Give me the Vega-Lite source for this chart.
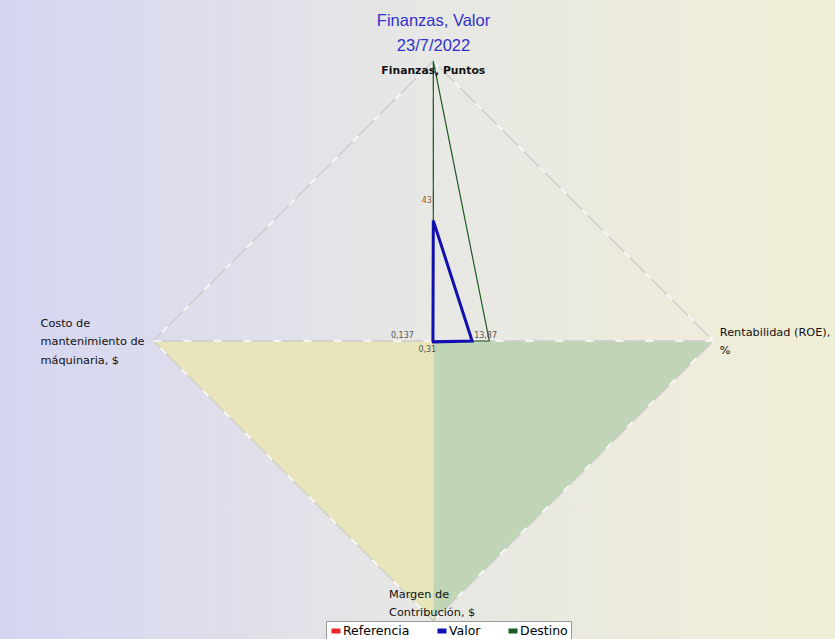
{
  "$schema": "https://vega.github.io/schema/vega-lite/v6.json",
  "width": 835,
  "height": 639,
  "autosize": {"type": "none"},
  "padding": 0,
  "background": "#e6e6e8",
  "config": {
    "view": {"stroke": null},
    "legend": {
      "orient": "none",
      "legendX": 326,
      "legendY": 621,
      "direction": "horizontal",
      "symbolType": "stroke",
      "symbolSize": 81,
      "symbolStrokeWidth": 5,
      "labelFont": "DejaVu Sans",
      "labelFontSize": 12.5,
      "labelColor": "#000000",
      "labelOffset": 0,
      "columnPadding": 17,
      "padding": 3,
      "fillColor": "#ffffff",
      "strokeColor": "#9a9a9a"
    }
  },
  "title": {
    "text": ["Finanzas, Valor", "23/7/2022"],
    "anchor": "middle",
    "frame": "group",
    "dx": 16,
    "font": "Liberation Sans",
    "fontSize": 16.5,
    "fontWeight": "normal",
    "color": "#3232cc",
    "lineHeight": 25,
    "baseline": "top",
    "offset": -54
  },
  "datasets": {
    "bg": [{}],
    "series": [
      {"series": "Valor", "axis": 0, "value": 43, "label": "43"},
      {"series": "Valor", "axis": 1, "value": 13.87, "label": "13,87"},
      {"series": "Valor", "axis": 2, "value": 0.31, "label": "0,31"},
      {"series": "Valor", "axis": 3, "value": 0.137, "label": "0,137"},
      {"series": "Destino", "axis": 0, "value": 100, "label": ""},
      {"series": "Destino", "axis": 1, "value": 20, "label": ""},
      {"series": "Destino", "axis": 2, "value": 0, "label": ""},
      {"series": "Destino", "axis": 3, "value": 0, "label": ""}
    ],
    "axes": [
      {"axis": 0, "value": 100, "name": ["Finanzas, Puntos"]},
      {"axis": 1, "value": 100, "name": ["Rentabilidad (ROE),", "\u00a0%"]},
      {"axis": 2, "value": 100, "name": ["Margen de", "Contribución, $"]},
      {"axis": 3, "value": 100, "name": ["Costo de", "mantenimiento de", "máquinaria, $"]}
    ],
    "sectors": [
      {"sector": "right", "axis": 1, "value": 100},
      {"sector": "right", "axis": 2, "value": 100},
      {"sector": "left", "axis": 2, "value": 100},
      {"sector": "left", "axis": 3, "value": 100}
    ]
  },
  "layer": [
    {
      "data": {"name": "bg"},
      "mark": {
        "type": "rect",
        "color": {
          "gradient": "linear",
          "stops": [
            {"offset": 0, "color": "#d5d5f3"},
            {"offset": 0.5, "color": "#e7e7e5"},
            {"offset": 1, "color": "#f1eed6"}
          ]
        }
      },
      "encoding": {}
    },
    {
      "encoding": {
        "x": {"field": "x", "type": "quantitative", "scale": {"domain": [-1.5475, 1.4346], "nice": false, "zero": false}, "axis": null},
        "y": {"field": "y", "type": "quantitative", "scale": {"domain": [-1.0643, 1.2179], "nice": false, "zero": false}, "axis": null, "stack": null}
      },
      "layer": [
        {
          "data": {"name": "sectors"},
          "transform": [
            {"filter": "datum.sector == 'right'"},
            {"calculate": "datum.value/100*sin(datum.axis*PI/2)", "as": "x"},
            {"calculate": "datum.value/100*cos(datum.axis*PI/2)", "as": "y"}
          ],
          "mark": {"type": "area", "color": "#bfd5b5", "opacity": 1},
          "encoding": {"y2": {"datum": 0}}
        },
        {
          "data": {"name": "sectors"},
          "transform": [
            {"filter": "datum.sector == 'left'"},
            {"calculate": "datum.value/100*sin(datum.axis*PI/2)", "as": "x"},
            {"calculate": "datum.value/100*cos(datum.axis*PI/2)", "as": "y"}
          ],
          "mark": {"type": "area", "color": "#e8e5bb", "opacity": 1},
          "encoding": {"y2": {"datum": 0}}
        },
        {
          "data": {"name": "axes"},
          "transform": [
            {"calculate": "datum.value/100*sin(datum.axis*PI/2)", "as": "x"},
            {"calculate": "datum.value/100*cos(datum.axis*PI/2)", "as": "y"}
          ],
          "mark": {"type": "line", "interpolate": "linear-closed", "color": "#cdcdcd", "strokeWidth": 1.5},
          "encoding": {"order": {"field": "axis"}}
        },
        {
          "data": {"name": "axes"},
          "transform": [
            {"calculate": "datum.value/100*sin(datum.axis*PI/2)", "as": "x"},
            {"calculate": "datum.value/100*cos(datum.axis*PI/2)", "as": "y"}
          ],
          "mark": {"type": "line", "interpolate": "linear-closed", "color": "#ffffff", "strokeWidth": 1.5, "strokeDash": [8, 22]},
          "encoding": {"order": {"field": "axis"}}
        },
        {
          "data": {"name": "axes"},
          "transform": [
            {"filter": "datum.axis != 2"},
            {"calculate": "datum.value/100*sin(datum.axis*PI/2)", "as": "x"},
            {"calculate": "datum.value/100*cos(datum.axis*PI/2)", "as": "y"}
          ],
          "mark": {"type": "rule", "color": "#cdcdcd", "strokeWidth": 1.5},
          "encoding": {"x2": {"datum": 0}, "y2": {"datum": 0}}
        },
        {
          "data": {"name": "axes"},
          "transform": [
            {"filter": "datum.axis != 2"},
            {"calculate": "datum.value/100*sin(datum.axis*PI/2)", "as": "x"},
            {"calculate": "datum.value/100*cos(datum.axis*PI/2)", "as": "y"}
          ],
          "mark": {"type": "rule", "color": "#ffffff", "strokeWidth": 1.5, "strokeDash": [8, 22]},
          "encoding": {"x2": {"datum": 0}, "y2": {"datum": 0}}
        },
        {
          "data": {"name": "series"},
          "transform": [
            {"filter": "datum.series == 'Destino'"},
            {"calculate": "datum.value/100*sin(datum.axis*PI/2)", "as": "x"},
            {"calculate": "datum.value/100*cos(datum.axis*PI/2)", "as": "y"}
          ],
          "mark": {"type": "line", "interpolate": "linear-closed", "strokeWidth": 1.2},
          "encoding": {
            "order": {"field": "axis"},
            "color": {"field": "series", "type": "nominal", "scale": {"domain": ["Referencia", "Valor", "Destino"], "range": ["#e8262c", "#1010b0", "#1f5a22"]}, "legend": {"title": null}}
          }
        },
        {
          "data": {"name": "series"},
          "transform": [
            {"filter": "datum.series == 'Valor'"},
            {"calculate": "datum.value/100*sin(datum.axis*PI/2)", "as": "x"},
            {"calculate": "datum.value/100*cos(datum.axis*PI/2)", "as": "y"}
          ],
          "mark": {"type": "line", "interpolate": "linear-closed", "strokeWidth": 3},
          "encoding": {
            "order": {"field": "axis"},
            "color": {"field": "series", "type": "nominal", "scale": {"domain": ["Referencia", "Valor", "Destino"], "range": ["#e8262c", "#1010b0", "#1f5a22"]}, "legend": {"title": null}}
          }
        },
        {
          "data": {"name": "series"},
          "transform": [
            {"filter": "datum.series == 'Valor' && datum.axis == 0"},
            {"calculate": "datum.value/100*sin(datum.axis*PI/2)", "as": "x"},
            {"calculate": "datum.value/100*cos(datum.axis*PI/2)", "as": "y"}
          ],
          "mark": {"type": "text", "font": "DejaVu Sans", "fontSize": 8, "color": "#9c5b2e", "align": "center", "baseline": "middle", "dx": -6.5, "dy": -20},
          "encoding": {"text": {"field": "label"}}
        },
        {
          "data": {"name": "series"},
          "transform": [
            {"filter": "datum.series == 'Valor' && datum.axis == 1"},
            {"calculate": "datum.value/100*sin(datum.axis*PI/2)", "as": "x"},
            {"calculate": "datum.value/100*cos(datum.axis*PI/2)", "as": "y"}
          ],
          "mark": {"type": "text", "font": "DejaVu Sans", "fontSize": 8, "color": "#555555", "align": "left", "baseline": "middle", "dx": 2, "dy": -5},
          "encoding": {"text": {"field": "label"}}
        },
        {
          "data": {"name": "series"},
          "transform": [
            {"filter": "datum.series == 'Valor' && datum.axis == 2"},
            {"calculate": "datum.value/100*sin(datum.axis*PI/2)", "as": "x"},
            {"calculate": "datum.value/100*cos(datum.axis*PI/2)", "as": "y"}
          ],
          "mark": {"type": "text", "font": "DejaVu Sans", "fontSize": 8, "color": "#555555", "align": "center", "baseline": "middle", "dx": -6, "dy": 8},
          "encoding": {"text": {"field": "label"}}
        },
        {
          "data": {"name": "series"},
          "transform": [
            {"filter": "datum.series == 'Valor' && datum.axis == 3"},
            {"calculate": "datum.value/100*sin(datum.axis*PI/2)", "as": "x"},
            {"calculate": "datum.value/100*cos(datum.axis*PI/2)", "as": "y"}
          ],
          "mark": {"type": "text", "font": "DejaVu Sans", "fontSize": 8, "color": "#555555", "align": "center", "baseline": "middle", "dx": -30.5, "dy": -5},
          "encoding": {"text": {"field": "label"}}
        },
        {
          "data": {"name": "axes"},
          "transform": [
            {"filter": "datum.axis == 0"},
            {"calculate": "datum.value/100*sin(datum.axis*PI/2)", "as": "x"},
            {"calculate": "datum.value/100*cos(datum.axis*PI/2)", "as": "y"}
          ],
          "mark": {"type": "text", "font": "DejaVu Sans", "fontSize": 10.8, "fontWeight": "bold", "color": "#111111", "align": "center", "baseline": "middle", "dy": 10},
          "encoding": {"text": {"field": "name"}}
        },
        {
          "data": {"name": "axes"},
          "transform": [
            {"filter": "datum.axis == 1"},
            {"calculate": "datum.value/100*sin(datum.axis*PI/2)", "as": "x"},
            {"calculate": "datum.value/100*cos(datum.axis*PI/2)", "as": "y"}
          ],
          "mark": {"type": "text", "font": "DejaVu Sans", "fontSize": 11.3, "color": "#111111", "align": "left", "baseline": "middle", "dx": 6.5, "dy": -8, "lineHeight": 18},
          "encoding": {"text": {"field": "name"}}
        },
        {
          "data": {"name": "axes"},
          "transform": [
            {"filter": "datum.axis == 2"},
            {"calculate": "datum.value/100*sin(datum.axis*PI/2)", "as": "x"},
            {"calculate": "datum.value/100*cos(datum.axis*PI/2)", "as": "y"}
          ],
          "mark": {"type": "text", "font": "DejaVu Sans", "fontSize": 11.3, "color": "#111111", "align": "left", "baseline": "middle", "dx": -44.3, "dy": -26, "lineHeight": 17.7},
          "encoding": {"text": {"field": "name"}}
        },
        {
          "data": {"name": "axes"},
          "transform": [
            {"filter": "datum.axis == 3"},
            {"calculate": "datum.value/100*sin(datum.axis*PI/2)", "as": "x"},
            {"calculate": "datum.value/100*cos(datum.axis*PI/2)", "as": "y"}
          ],
          "mark": {"type": "text", "font": "DejaVu Sans", "fontSize": 11.3, "color": "#111111", "align": "left", "baseline": "middle", "dx": -112.8, "dy": -17.5, "lineHeight": 18.8},
          "encoding": {"text": {"field": "name"}}
        }
      ]
    }
  ]
}
